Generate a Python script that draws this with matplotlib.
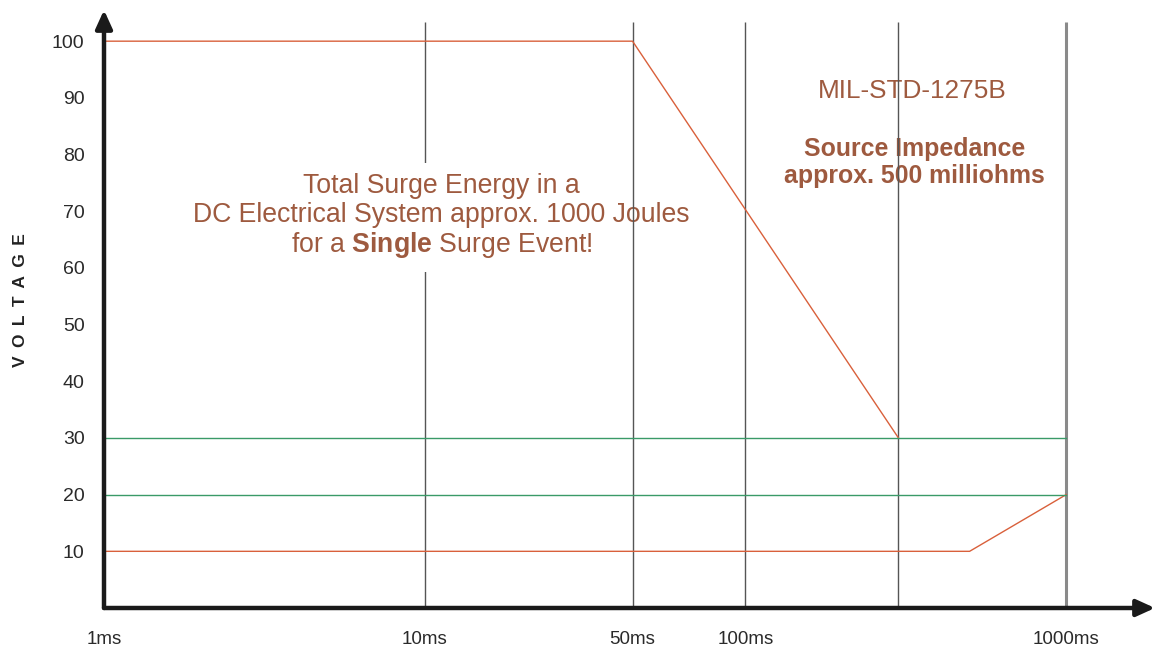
import numpy as np
import matplotlib
matplotlib.use("Agg")
import matplotlib.pyplot as plt

plt.rcParams['font.family'] = ['Liberation Sans', 'DejaVu Sans']
plt.rcParams['mathtext.fontset'] = 'custom'
plt.rcParams['mathtext.rm'] = 'Liberation Sans'
plt.rcParams['mathtext.bf'] = 'Liberation Sans:bold'

# ---- data ----
x_ticks = [1, 10, 50, 100, 1000]
x_tick_labels = ["1ms", "10ms", "50ms", "100ms", "1000ms"]
y_ticks = [10, 20, 30, 40, 50, 60, 70, 80, 90, 100]
grid_times = [10, 50, 100, 300]
upper_t = [1, 50, 300]          # upper surge envelope (ms)
upper_v = [100, 100, 30]
lower_t = [1, 500, 1000]        # lower envelope
lower_v = [10, 10, 20]
ref_levels = [30, 20]           # green reference lines
ref_t = [1, 1000]

# ---- scale (drawing's own pseudo-log time axis) ----
_kl = [-1.0, 0.0, 1.0, np.log10(50), 2.0, 3.0, 4.0]
_kp = [-1.0, 0.0, 1.0, 1.648, 2.0, 3.0, 4.0]

def fwd(x):
    x = np.asarray(x, dtype=float)
    return np.interp(np.log10(np.clip(x, 1e-3, None)), _kl, _kp)

def inv(u):
    return 10 ** np.interp(np.asarray(u, dtype=float), _kp, _kl)

W, H = 1156, 652
fig = plt.figure(figsize=(W / 100, H / 100), dpi=100)
ax = fig.add_axes([104 / W, (H - 608) / H, (1155 - 104) / W, (608 - 10) / H])
ax.set_xscale('function', functions=(fwd, inv))
ax.set_xlim(1, inv(3.277))
ax.set_ylim(0, 105.5)
for s in ax.spines.values():
    s.set_visible(False)

# axes with arrows
arrow_kw = dict(arrowstyle='-|>,head_length=1.1,head_width=0.5', color='#1a1a1a', lw=3.2,
                shrinkA=0, shrinkB=0)
ax.annotate('', xy=(0, 1), xytext=(0, 0), xycoords='axes fraction', arrowprops=arrow_kw,
            annotation_clip=False, zorder=10)
ax.annotate('', xy=(1, 0), xytext=(0, 0), xycoords='axes fraction', arrowprops=arrow_kw,
            annotation_clip=False, zorder=10)

txt_col = '#9E5A3F'
red = '#D9603B'
green = '#3A9A68'

# vertical grid lines
ax.vlines(grid_times[0], 0, 103.4, color='#555555', lw=1.0, zorder=1)
ax.vlines(grid_times[1:], 0, 103.4, color='#555555', lw=1.0, zorder=4)
ax.vlines(1000, 0, 103.4, color='#8a8a8a', lw=2.2, zorder=4)

# series
ax.plot(upper_t, upper_v, color=red, lw=1.0, zorder=5)
ax.plot(lower_t, lower_v, color=red, lw=1.0, zorder=5)
for lv in ref_levels:
    ax.plot(ref_t, [lv, lv], color=green, lw=1.0, zorder=5)

# ticks
ax.set_yticks(y_ticks)
ax.set_yticklabels([str(v) for v in y_ticks])
ax.set_xticks(x_ticks)
ax.set_xticklabels(x_tick_labels)
ax.tick_params(axis='y', length=0, pad=14, labelsize=14, labelcolor='#2a2a2a')
ax.tick_params(axis='x', length=0, pad=16.5, labelsize=13.5, labelcolor='#2a2a2a')
ax.minorticks_off()

ax.set_ylabel('V\u2009 O\u2009 L\u2009 T\u2009 A\u2009 G\u2009 E', fontsize=12.5,
              fontweight='bold', color='#222222')
ax.yaxis.set_label_coords(-0.0723, 0.515)

# annotations
ax.text(0.321, 0.654,
        "Total Surge Energy in a\nDC Electrical System approx. 1000 Joules\nfor a $\\mathbf{Single}$ Surge Event!",
        transform=ax.transAxes, ha='center', va='center', fontsize=19.2, color=txt_col,
        linespacing=1.12, zorder=3,
        bbox=dict(boxstyle='square,pad=0.45', fc='white', ec='none'))
ax.text(0.769, 0.864, "MIL-STD-1275B", transform=ax.transAxes, ha='center', va='center',
        fontsize=18.8, color=txt_col, zorder=3)
ax.text(0.771, 0.745, "Source Impedance\napprox. 500 milliohms", transform=ax.transAxes,
        ha='center', va='center', fontsize=17.9, fontweight='bold', color=txt_col,
        linespacing=1.17, zorder=3)

fig.savefig('out.png', dpi=100)
